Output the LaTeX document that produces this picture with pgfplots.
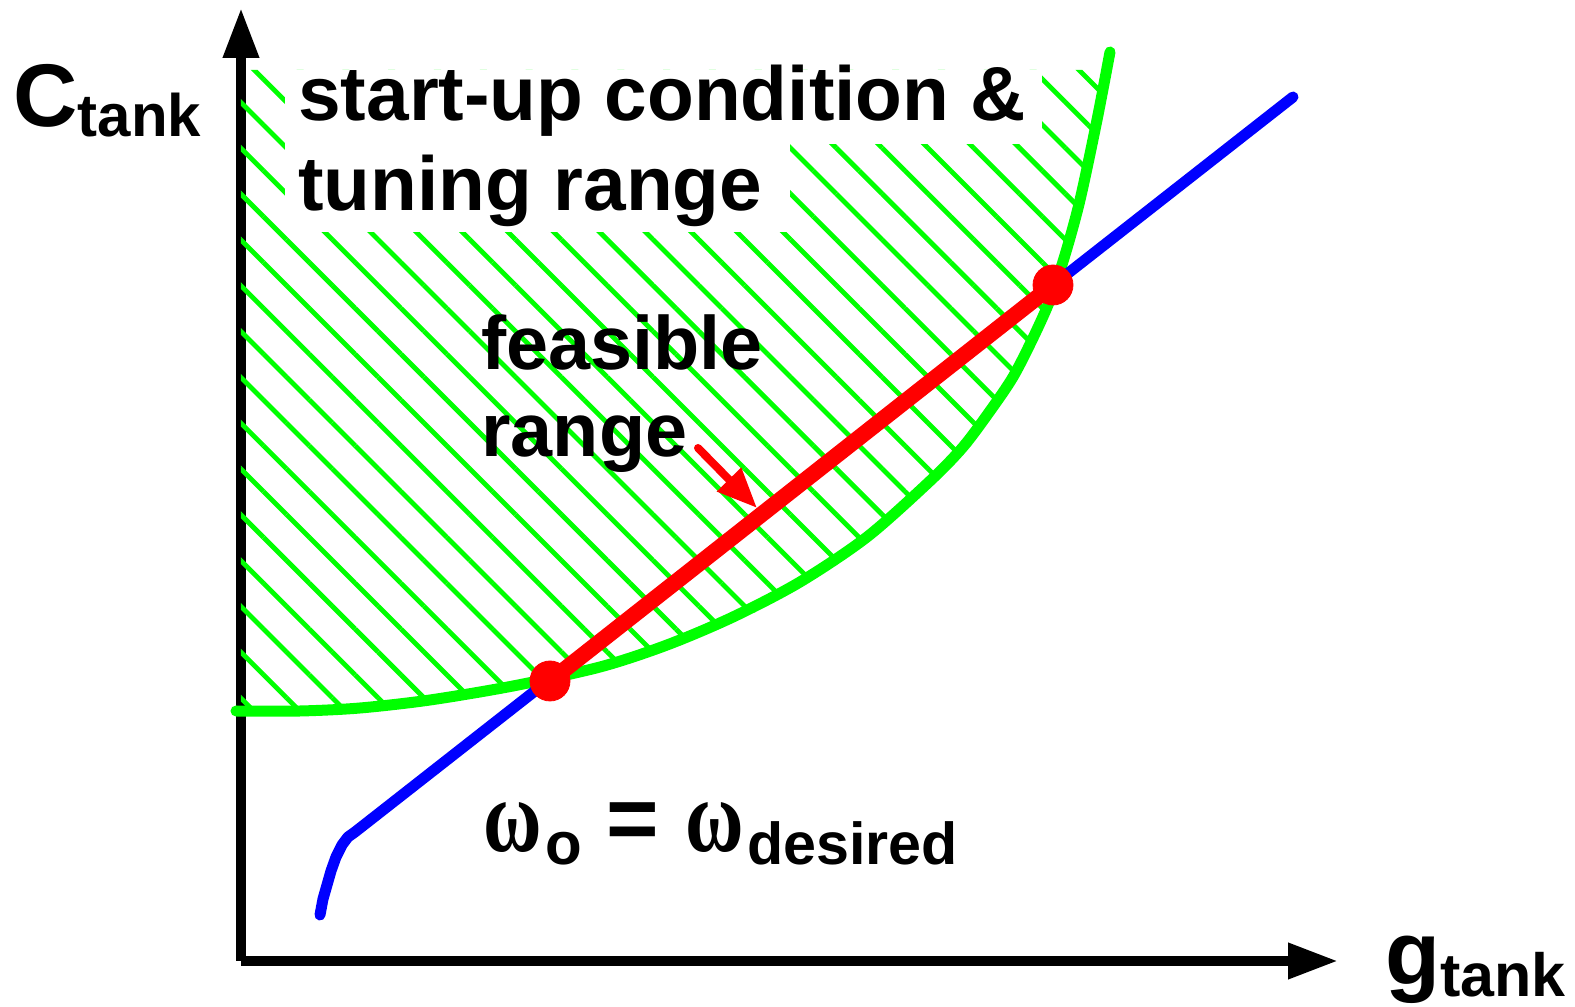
\documentclass[border=0pt]{standalone}
\usepackage{pgfplots}
\pgfplotsset{compat=1.18}
\usepackage{fontspec}
\setmainfont{Liberation Sans}
\newfontfamily\greekfont{Liberation Serif}
\usetikzlibrary{arrows.meta,patterns.meta}
\definecolor{hgreen}{RGB}{0,255,0}
\definecolor{hblue}{RGB}{0,0,255}
\definecolor{hred}{RGB}{255,0,0}

\begin{document}
\begin{tikzpicture}
\begin{axis}[
    x=0.5pt, y=0.5pt,
    xmin=241, xmax=1338, ymin=46, ymax=999,
    axis lines=left,
    axis line style={line width=5pt, -{Triangle[length=25pt,width=17pt]}},
    xtick=\empty, ytick=\empty,
    clip=false,
]
    % page frame
    \path (axis cs:0,0) rectangle (axis cs:1575,1007);

    % hatched region above the start-up curve
    \addplot[draw=none, pattern={Lines[angle=-45,distance=16.2pt,line width=2.4pt]}, pattern color=hgreen]
        coordinates {
            (241,296) (300,296) (360,299) (430,307) (513,321) (600,340) (667,362)
            (733,390) (800,425) (867,470) (930,526) (963,560) (990,596) (1013,630)
            (1033,669) (1050,707) (1065,752) (1080,807) (1097,887) (1106,937)
            (241,937)
        } -- cycle;

    % white boxes behind the title
    \fill[white] (axis cs:285,937) rectangle (axis cs:1042,863);
    \fill[white] (axis cs:285,864) rectangle (axis cs:790,775);

    % start-up condition curve
    \addplot[hgreen, line width=5.5pt, smooth, line cap=round] coordinates {
        (236,296) (300,296) (360,299) (430,307) (513,321) (600,340) (667,362)
        (733,390) (800,425) (867,470) (930,526) (963,560) (990,596) (1013,630)
        (1033,669) (1050,707) (1065,752) (1080,807) (1097,887) (1110,955)
    };

    % omega_o = omega_desired curve
    \addplot[hblue, line width=5.5pt, line cap=round, line join=round] coordinates {
        (320,92) (323,108) (327,122) (331,136) (336,150) (342,162) (348,170) (355,175)
        (1293,910)
    };

    % feasible range
    \addplot[hred, line width=8pt] coordinates {(550,326) (1053,722)};
    \addplot[hred, only marks, mark=*, mark size=10pt] coordinates {(550,326) (1053,722)};
    \addplot[hred, line width=4pt, line cap=round, -{Triangle[length=20pt,width=16pt]}]
        coordinates {(698,559) (757,499)};

    % labels
    \node[anchor=base west, inner sep=0pt, font=\bfseries\fontsize{38.3}{40}\selectfont]
        at (axis cs:298,886) {start-up condition \&};
    \node[anchor=base west, inner sep=0pt, font=\bfseries\fontsize{38.3}{40}\selectfont]
        at (axis cs:298,796) {tuning range};
    \node[anchor=base west, inner sep=0pt, font=\bfseries\fontsize{37.8}{40}\selectfont]
        at (axis cs:481,637) {feasible};
    \node[anchor=base west, inner sep=0pt, font=\bfseries\fontsize{37.8}{40}\selectfont]
        at (axis cs:481,550) {range};

    \node[anchor=base west, inner sep=0pt, font=\bfseries]
        at (axis cs:13,880) {\fontsize{44.5}{48}\selectfont C\raisebox{-5pt}{\fontsize{30}{32}\selectfont tank}};
    \node[anchor=base west, inner sep=0pt, font=\bfseries]
        at (axis cs:1385,22) {\fontsize{45}{48}\selectfont g\raisebox{-6pt}{\fontsize{30.5}{32}\selectfont tank}};

    \node[anchor=base west, inner sep=0pt, font=\bfseries\greekfont\fontsize{40}{44}\selectfont]
        at (axis cs:483,155) {\scalebox{1}[1.3]{ω}};
    \node[anchor=base west, inner sep=0pt, font=\bfseries\fontsize{30}{32}\selectfont]
        at (axis cs:545,142) {o};
    \node[anchor=base, inner sep=0pt, font=\bfseries\fontsize{45}{48}\selectfont]
        at (axis cs:633,157) {=};
    \node[anchor=base west, inner sep=0pt, font=\bfseries\greekfont\fontsize{40}{44}\selectfont]
        at (axis cs:685,155) {\scalebox{1}[1.3]{ω}};
    \node[anchor=base west, inner sep=0pt, font=\bfseries\fontsize{29.6}{32}\selectfont]
        at (axis cs:747,142) {desired};
\end{axis}
\end{tikzpicture}
\end{document}
